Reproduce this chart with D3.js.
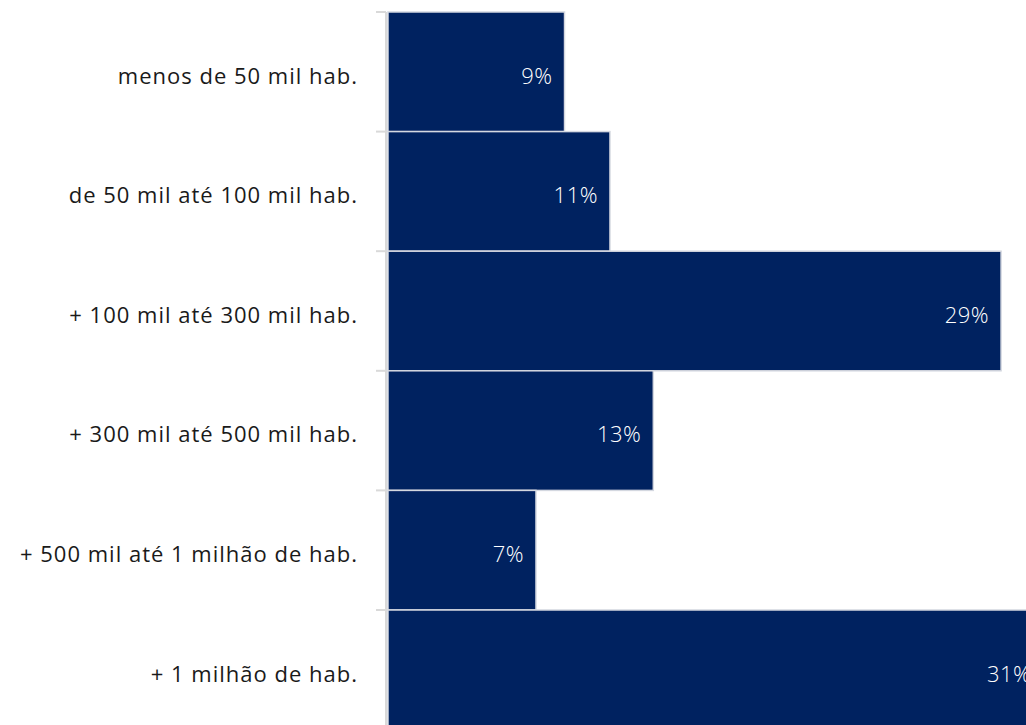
<!DOCTYPE html>
<html>
<head>
<meta charset="utf-8">
<script src="https://cdn.jsdelivr.net/npm/d3@7"></script>
<style>
  body { margin: 0; background: #fff; }
  svg { display: block; overflow: hidden; }
</style>
</head>
<body>
<svg id="chart" width="1026" height="725"></svg>
<script>
// categories, top to bottom
let categories = [
  'menos de 50 mil hab.',
  'de 50 mil até 100 mil hab.',
  '+ 100 mil até 300 mil hab.',
  '+ 300 mil até 500 mil hab.',
  '+ 500 mil até 1 milhão de hab.',
  '+ 1 milhão de hab.'
];

// bar lengths (share, %)
let values = [8.35, 10.5, 29.0, 12.55, 7.0, 31.0];

// labels printed on the bars
let valueLabels = ['9%', '11%', '29%', '13%', '7%', '31%'];

let width = 1026,
    height = 725,
    margin = { top: 12, left: 388 },
    bandStep = 119.6,
    barColor = '#002060';

let svg = d3.select('#chart');

let x = d3.scaleLinear()
  .domain([0, 1])
  .range([margin.left, margin.left + 21.14]);

let y = d3.scaleBand()
  .domain(categories)
  .range([margin.top, margin.top + bandStep * categories.length])
  .padding(0);

// soft edge on the bars
let defs = svg.append('defs');
defs.append('filter')
    .attr('id', 'soft')
    .attr('x', '-5%').attr('y', '-5%')
    .attr('width', '110%').attr('height', '110%')
  .append('feGaussianBlur')
    .attr('stdDeviation', 0.7);

let bars = svg.append('g').attr('filter', 'url(#soft)');

bars.selectAll('rect')
  .data(values)
  .join('rect')
    .attr('x', x(0))
    .attr('y', (d, i) => y(categories[i]))
    .attr('width', d => x(d) - x(0))
    .attr('height', y.bandwidth())
    .attr('fill', barColor)
    .attr('stroke', '#d4d8e0')
    .attr('stroke-width', 1.5);

// value labels, right-aligned inside the bar
svg.append('g').selectAll('text')
  .data(values)
  .join('text')
    .attr('x', d => x(d) - 12)
    .attr('y', (d, i) => y(categories[i]) + y.bandwidth() / 2 + 6)
    .attr('text-anchor', 'end')
    .attr('dominant-baseline', 'middle')
    .attr('fill', '#fff')
    .style('font-family', '"Open Sans", sans-serif')
    .style('font-weight', 300)
    .style('font-size', '22px')
    .style('letter-spacing', '0.5px')
    .text((d, i) => valueLabels[i]);

// vertical category axis
let axis = svg.append('g')
  .attr('transform', `translate(${margin.left - 2},0)`);

axis.append('line')
  .attr('x1', 0).attr('x2', 0)
  .attr('y1', margin.top).attr('y2', height)
  .attr('stroke', '#d9d9d9')
  .attr('stroke-width', 2);

axis.selectAll('line.tick')
  .data(categories)
  .join('line')
    .attr('class', 'tick')
    .attr('x1', -10).attr('x2', 0)
    .attr('y1', d => y(d))
    .attr('y2', d => y(d))
    .attr('stroke', '#d9d9d9')
    .attr('stroke-width', 2);

axis.selectAll('text')
  .data(categories)
  .join('text')
    .attr('x', -28)
    .attr('y', d => y(d) + y.bandwidth() / 2 + 6)
    .attr('text-anchor', 'end')
    .attr('dominant-baseline', 'middle')
    .attr('fill', '#1a1a1a')
    .style('font-family', '"Open Sans", sans-serif')
    .style('font-size', '22px')
    .style('letter-spacing', '1px')
    .text(d => d);
</script>
</body>
</html>
